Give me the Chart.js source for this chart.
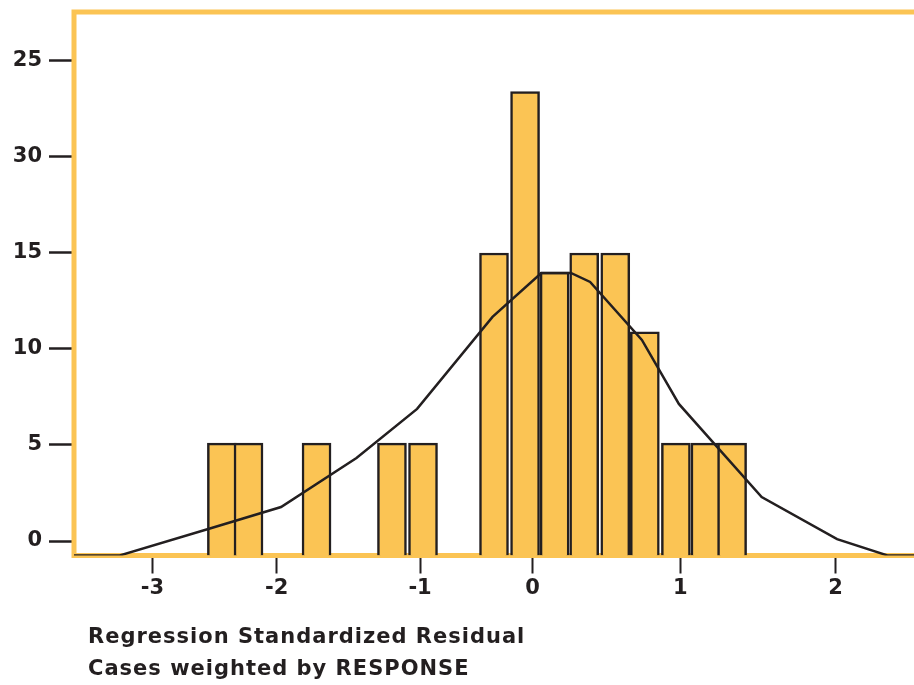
<!DOCTYPE html>
<html>
<head>
<meta charset="utf-8">
<script src="https://cdn.jsdelivr.net/npm/chart.js@4.4.0/dist/chart.umd.min.js"></script>
<style>
  body { margin: 0; background: #fff; }
  #wrap { width: 914px; height: 685px; position: relative; }
</style>
</head>
<body>
<div id="wrap"><canvas id="histChart"></canvas></div>
<script>
// histogram bins: centre (residual units) and weighted count
const binCenters = [-2.10, -1.92, -1.46, -0.95, -0.74, -0.26, -0.05, 0.15, 0.35, 0.56, 0.76, 0.97, 1.17, 1.35];
const binCounts = [5.1, 5.1, 5.1, 5.1, 5.1, 15, 23.4, 14, 15, 15, 10.9, 5.1, 5.1, 5.1];
const barFloor = -0.75;

// normal curve vertices
const curveX = [-3.10, -2.79, -2.17, -1.70, -1.19, -0.78, -0.27, 0.06, 0.26, 0.39, 0.74, 0.99, 1.55, 2.06, 2.40, 2.58];
const curveY = [-0.75, -0.75, 0.68, 1.77, 4.32, 6.88, 11.67, 13.96, 13.96, 13.49, 10.47, 7.14, 2.29, 0.10, -0.75, -0.75];

const xTickPos = [-2.57, -1.73, -0.76, 0, 1.0, 2.05];
const xTickLabels = ['-3', '-2', '-1', '0', '1', '2'];
const yTickPos = [0, 5, 10, 15, 20, 25];
const yTickLabels = ['0', '5', '10', '15', '30', '25'];
const axisTitle = ['Regression Standardized Residual', 'Cases weighted by RESPONSE'];

const ink = '#231f20';
const gold = '#fbc454';
const fontFamily = '"DejaVu Sans", sans-serif';

// orange frame (left, top, bottom) drawn under the bars
const framePlugin = {
  id: 'frame',
  beforeDatasetsDraw(chart) {
    const { ctx, chartArea: a } = chart;
    ctx.save();
    ctx.strokeStyle = gold;
    ctx.lineWidth = 5;
    ctx.beginPath();
    ctx.moveTo(a.right + 5, a.top);
    ctx.lineTo(a.left, a.top);
    ctx.lineTo(a.left, a.bottom);
    ctx.lineTo(a.right + 5, a.bottom);
    ctx.stroke();
    ctx.restore();
  },
  afterDraw(chart) {
    const ctx = chart.ctx;
    ctx.save();
    ctx.fillStyle = ink;
    ctx.font = 'bold 21px ' + fontFamily;
    ctx.letterSpacing = '1px';
    ctx.textBaseline = 'middle';
    ctx.fillText(axisTitle[0], 88, 638);
    ctx.fillText(axisTitle[1], 88, 670);
    ctx.restore();
  }
};

const ctx = document.getElementById('histChart').getContext('2d');
new Chart(ctx, {
  type: 'bar',
  data: {
    datasets: [{
      type: 'line',
      data: curveX.map((x, i) => ({ x: x, y: curveY[i] })),
      borderColor: ink,
      borderWidth: 2.5,
      pointRadius: 0,
      tension: 0,
      fill: false,
      order: 0
    }, {
      type: 'bar',
      data: binCenters.map((x, i) => ({ x: x, y: binCounts[i] })),
      base: barFloor,
      backgroundColor: gold,
      borderColor: ink,
      borderWidth: 2.5,
      barThickness: 29,
      order: 1
    }]
  },
  options: {
    responsive: true,
    maintainAspectRatio: false,
    animation: false,
    devicePixelRatio: 1,
    layout: { padding: { top: 12, right: 0, left: 0, bottom: 0 } },
    plugins: {
      legend: { display: false },
      tooltip: { enabled: false }
    },
    scales: {
      x: {
        type: 'linear',
        offset: false,
        min: -3.10,
        max: 2.58,
        afterBuildTicks(scale) {
          scale.ticks = xTickPos.map(v => ({ value: v }));
        },
        afterFit(scale) {
          scale.height = 129.5;
          scale.paddingLeft = 0;
          scale.paddingRight = 0;
        },
        ticks: {
          color: ink,
          font: { family: fontFamily, size: 21, weight: 'bold' },
          padding: 2,
          maxRotation: 0,
          autoSkip: false,
          callback: (v, i) => xTickLabels[i]
        },
        grid: {
          offset: false,
          drawOnChartArea: false,
          drawTicks: true,
          tickLength: 18,
          tickColor: ink,
          tickWidth: 2
        },
        border: { display: false }
      },
      y: {
        min: -0.755,
        max: 27.55,
        afterBuildTicks(scale) {
          scale.ticks = yTickPos.map(v => ({ value: v }));
        },
        afterFit(scale) {
          scale.width = 74;
          scale.paddingTop = 0;
          scale.paddingBottom = 0;
        },
        ticks: {
          color: ink,
          font: { family: fontFamily, size: 21, weight: 'bold' },
          padding: 7,
          autoSkip: false,
          callback: (v, i) => yTickLabels[i]
        },
        grid: {
          drawOnChartArea: false,
          drawTicks: true,
          tickLength: 25,
          tickColor: ink,
          tickWidth: 2.5
        },
        border: { display: false }
      }
    }
  },
  plugins: [framePlugin]
});
</script>
</body>
</html>
